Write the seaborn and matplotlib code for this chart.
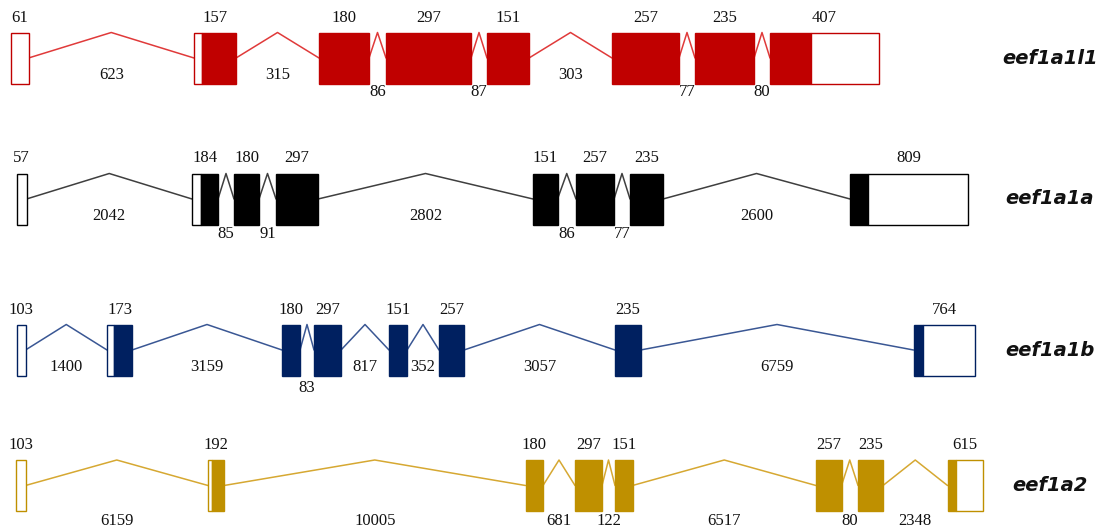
import pandas as pd
import matplotlib.pyplot as plt
import seaborn as sns

genes = ["eef1a1l1", "eef1a1a", "eef1a1b", "eef1a2"]

# exon / intron lengths (bp) as printed on the figure
exon_bp = {
    "eef1a1l1": [61, 157, 180, 297, 151, 257, 235, 407],
    "eef1a1a": [57, 184, 180, 297, 151, 257, 235, 809],
    "eef1a1b": [103, 173, 180, 297, 151, 257, 235, 764],
    "eef1a2": [103, 192, 180, 297, 151, 257, 235, 615],
}
intron_bp = {
    "eef1a1l1": [623, 315, 86, 87, 303, 77, 80],
    "eef1a1a": [2042, 85, 91, 2802, 86, 77, 2600],
    "eef1a1b": [1400, 3159, 83, 817, 352, 3057, 6759],
    "eef1a2": [6159, 10005, 681, 122, 6517, 80, 2348],
}

# schematic track lengths (not to scale with bp)
track_start = {"eef1a1l1": 10.5, "eef1a1a": 16.5, "eef1a1b": 16.5, "eef1a2": 16}
exon_track = {
    "eef1a1l1": [18, 42, 50, 85, 42, 67, 59, 109],
    "eef1a1a": [10, 26, 25, 42, 24.5, 38, 33, 117.5],
    "eef1a1b": [9, 25, 18, 27, 18, 25, 25.5, 61.5],
    "eef1a2": [9.5, 16, 17.5, 27, 17.5, 25.5, 25, 35],
}
intron_track = {
    "eef1a1l1": [165.5, 83, 17, 16, 83, 16, 16],
    "eef1a1a": [165.5, 16, 17, 215, 18.5, 16, 187],
    "eef1a1b": [81.5, 150, 14, 48, 32, 151, 273],
    "eef1a2": [182.5, 301.5, 32, 13, 183.5, 16.5, 64.5],
}
# UTR part of exon 2 and of the last exon (track units)
utr5_track = {"eef1a1l1": 8, "eef1a1a": 8.5, "eef1a1b": 7, "eef1a2": 4}
utr3_track = {"eef1a1l1": 68, "eef1a1a": 99.5, "eef1a1b": 52, "eef1a2": 27}

palette = {"eef1a1l1": "#C00000", "eef1a1a": "#000000",
           "eef1a1b": "#002060", "eef1a2": "#BF9000"}
line_palette = {"eef1a1l1": "#E03A3A", "eef1a1a": "#3F3F3F",
                "eef1a1b": "#3A5794", "eef1a2": "#D6A832"}
row_y = {"eef1a1l1": 58, "eef1a1a": 199, "eef1a1b": 350, "eef1a2": 485.5}
box_h = 51

sns.set_theme(style="white")
fig, ax = plt.subplots(figsize=(11.13, 5.32), dpi=100)
fig.subplots_adjust(left=0, right=1, bottom=0, top=1)

num_font = dict(family="Liberation Serif", fontsize=12, color="#111111")

line_rows = []
for g in genes:
    cy = row_y[g]
    top, bot = cy - box_h / 2, cy + box_h / 2
    x = track_start[g]
    exons, introns = [], []
    for i, w in enumerate(exon_track[g]):
        exons.append((x, x + w))
        x += w
        if i < len(intron_track[g]):
            introns.append((x, x + intron_track[g][i]))
            x += intron_track[g][i]

    for k, (a, b) in enumerate(introns):
        unit = f"{g}_{k}"
        mid = (a + b) / 2
        line_rows += [
            {"gene": g, "unit": unit, "x": a, "y": cy},
            {"gene": g, "unit": unit, "x": mid, "y": top},
            {"gene": g, "unit": unit, "x": b, "y": cy},
        ]
        if g == "eef1a2":
            ty = bot + 10
        elif b - a < 20:
            ty = bot + 9 if b - a > 15 else bot + 13
        else:
            ty = cy + 17
        ax.text(mid, ty, str(intron_bp[g][k]), ha="center", va="center", **num_font)

    c = palette[g]
    n = len(exons)
    for i, (s, e) in enumerate(exons):
        if i == 0:
            parts = [(s, e, False)]
        elif i == 1:
            parts = [(s, s + utr5_track[g], False), (s + utr5_track[g], e, True)]
        elif i == n - 1:
            parts = [(s, e - utr3_track[g], True), (e - utr3_track[g], e, False)]
        else:
            parts = [(s, e, True)]
        for ps, pe, filled in parts:
            ax.barh(cy, pe - ps, left=ps, height=box_h,
                    color=c if filled else "white", edgecolor=c,
                    linewidth=1.0, zorder=3)
        ax.text((s + e) / 2, top - 15, str(exon_bp[g][i]), ha="center", va="center", **num_font)

    ax.text(1050, cy, g, ha="center", va="center", fontsize=14,
            fontweight="bold", fontstyle="italic", family="DejaVu Sans", color="#111111")

lines = pd.DataFrame(line_rows)
sns.lineplot(data=lines, x="x", y="y", hue="gene", palette=line_palette, units="unit",
             estimator=None, sort=False, legend=False, linewidth=1.1, ax=ax, zorder=2)

ax.set_xlim(0, 1113)
ax.set_ylim(532, 0)
ax.set_axis_off()

fig.savefig("out.png", dpi=100, facecolor="white")
